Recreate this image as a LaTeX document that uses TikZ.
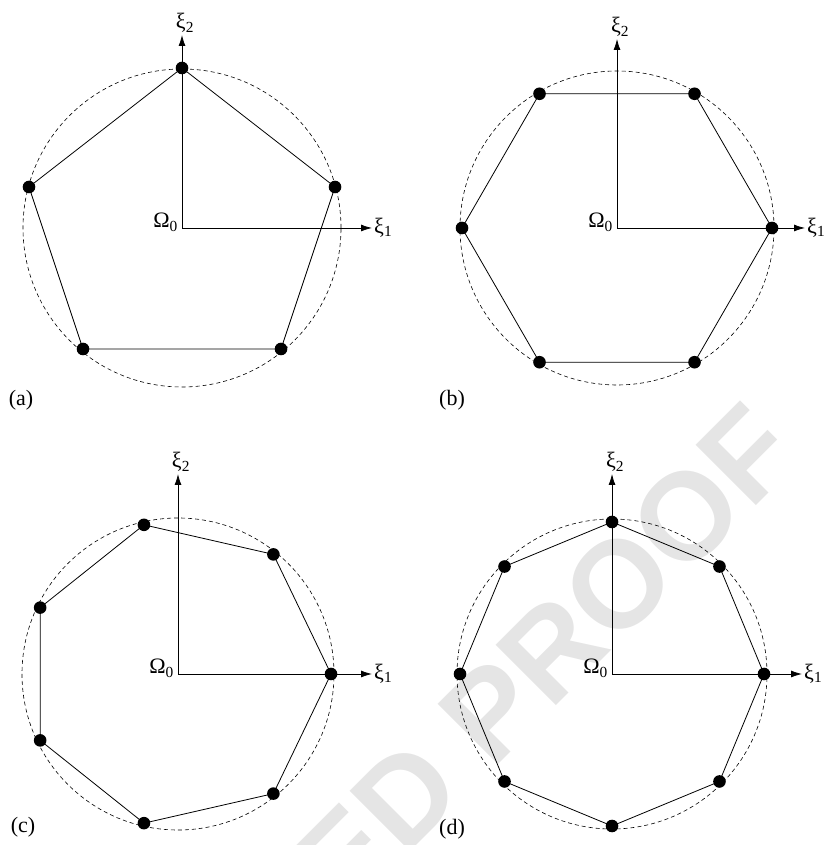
\documentclass[tikz,border=0pt]{standalone}
\usepackage{fontspec}
\setmainfont{Liberation Serif}
\newfontfamily\wmfont{Liberation Sans}
\usetikzlibrary{arrows.meta}

\tikzset{
  lbl/.style={font=\fontsize{22}{26}\selectfont, inner sep=2pt},
  dot/.style={circle, fill=black, inner sep=0pt, minimum size=12.6pt},
  edge/.style={line width=0.8pt},
  rim/.style={dash pattern=on 4pt off 3pt, line width=0.6pt},
  axis/.style={->, line width=0.8pt},
}

\begin{document}
\begin{tikzpicture}[x=1pt,y=1pt]
\tikzset{>={Latex[length=11pt,width=7pt]}}
\useasboundingbox (0,0) rectangle (823,845);

% proof stamp behind everything
\node[rotate=45, text=black!10, font=\wmfont\bfseries\fontsize{124}{130}\selectfont] (wm) at (545,188) {ED PROOF};

% (a) five points
\begin{scope}[shift={(182,617)}]
\coordinate (Oa) at (0,0);
\draw[rim] (Oa) circle (159pt);
\coordinate (a1) at (0,160);
\coordinate (a2) at (-153,41);
\coordinate (a3) at (-99,-121);
\coordinate (a4) at (99,-121);
\coordinate (a5) at (153,41);
\draw[edge] (a1) \foreach \i in {2,...,5}{-- (a\i)} -- cycle;
\coordinate (Xa) at (190,0);
\coordinate (Ya) at (0,193);
\draw[axis] (Oa) -- (Xa);
\draw[axis] (Oa) -- (Ya);
\foreach \i in {1,...,5}
  \node[dot] (da\i) at (a\i) {};
\node[lbl, right] (xa) at (Xa) {ξ\textsubscript{1}};
\node[lbl, above, xshift=3pt] (ya) at (Ya) {ξ\textsubscript{2}};
\node[lbl, anchor=base east, xshift=-2pt] (oa) at (Oa) {Ω\textsubscript{0}};
\end{scope}
\node[lbl] (ta) at (21,445) {(a)};

% (b) six points
\begin{scope}[shift={(617,617)}]
\coordinate (Ob) at (0,0);
\draw[rim] (Ob) circle (157pt);
\foreach \i in {1,...,6}
  \coordinate (b\i) at ({60*(\i-1)}:155);
\draw[edge] (b1) \foreach \i in {2,...,6}{-- (b\i)} -- cycle;
\coordinate (Xb) at (188,0);
\coordinate (Yb) at (0,189);
\draw[axis] (Ob) -- (Xb);
\draw[axis] (Ob) -- (Yb);
\foreach \i in {1,...,6}
  \node[dot] (db\i) at (b\i) {};
\node[lbl, right] (xb) at (Xb) {ξ\textsubscript{1}};
\node[lbl, above, xshift=3pt] (yb) at (Yb) {ξ\textsubscript{2}};
\node[lbl, anchor=base east, xshift=-2pt] (ob) at (Ob) {Ω\textsubscript{0}};
\end{scope}
\node[lbl] (tb) at (452,445) {(b)};

% (c) seven points
\begin{scope}[shift={(178,171)}]
\coordinate (Oc) at (0,0);
\draw[rim] (Oc) circle (156pt);
\foreach \i in {1,...,7}
  \coordinate (c\i) at ({360/7*(\i-1)}:153);
\draw[edge] (c1) \foreach \i in {2,...,7}{-- (c\i)} -- cycle;
\coordinate (Xc) at (194,0);
\coordinate (Yc) at (0,200);
\draw[axis] (Oc) -- (Xc);
\draw[axis] (Oc) -- (Yc);
\foreach \i in {1,...,7}
  \node[dot] (dc\i) at (c\i) {};
\node[lbl, right] (xc) at (Xc) {ξ\textsubscript{1}};
\node[lbl, above, xshift=3pt] (yc) at (Yc) {ξ\textsubscript{2}};
\node[lbl, anchor=base east, xshift=-2pt] (oc) at (Oc) {Ω\textsubscript{0}};
\end{scope}
\node[lbl] (tc) at (23,18) {(c)};

% (d) eight points
\begin{scope}[shift={(612,171)}]
\coordinate (Od) at (0,0);
\draw[rim] (Od) circle (155pt);
\foreach \i in {1,...,8}
  \coordinate (d\i) at ({45*(\i-1)}:152);
\draw[edge] (d1) \foreach \i in {2,...,8}{-- (d\i)} -- cycle;
\coordinate (Xd) at (190,0);
\coordinate (Yd) at (0,200);
\draw[axis] (Od) -- (Xd);
\draw[axis] (Od) -- (Yd);
\foreach \i in {1,...,8}
  \node[dot] (dd\i) at (d\i) {};
\node[lbl, right] (xd) at (Xd) {ξ\textsubscript{1}};
\node[lbl, above, xshift=3pt] (yd) at (Yd) {ξ\textsubscript{2}};
\node[lbl, anchor=base east, xshift=-2pt] (od) at (Od) {Ω\textsubscript{0}};
\end{scope}
\node[lbl] (td) at (452,16) {(d)};

\end{tikzpicture}
\end{document}
